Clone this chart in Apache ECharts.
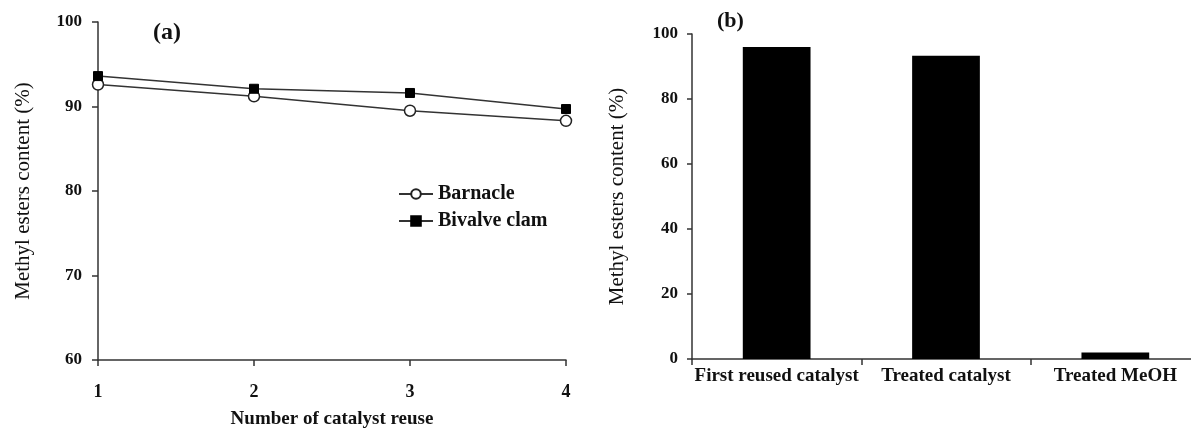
<!DOCTYPE html>
<html><head><meta charset="utf-8">
<script src="https://cdn.jsdelivr.net/npm/echarts@6/dist/echarts.min.js"></script>
<style>html,body{margin:0;padding:0;background:#fff}#c{width:1191px;height:429px}</style>
</head><body><div id="c"></div>
<script>
const reuseCats = ['1', '2', '3', '4'];
const barnacle = [92.6, 91.2, 89.5, 88.3];
const bivalve = [93.6, 92.1, 91.6, 89.7];
const barCats = ['First reused catalyst', 'Treated catalyst', 'Treated MeOH'];
const barVals = [96.0, 93.3, 2.0];

const F = 'Liberation Serif';
const axisCol = '#333';
const chart = echarts.init(document.getElementById('c'));
chart.setOption({
  backgroundColor: '#fff',
  animation: false,
  title: [
    {text: '(a)', left: 148, top: 16, textStyle: {fontFamily: F, fontSize: 24, fontWeight: 'bold', color: '#111'}},
    {text: '(b)', left: 712, top: 5, textStyle: {fontFamily: F, fontSize: 22, fontWeight: 'bold', color: '#111'}}
  ],
  legend: {
    orient: 'vertical', left: 393, top: 179, itemGap: 7, itemWidth: 34, itemHeight: 12,
    textStyle: {fontFamily: F, fontSize: 20, lineHeight: 20, fontWeight: 'bold', color: '#111'},
    data: ['Barnacle', 'Bivalve clam']
  },
  grid: [
    {left: 98, top: 22, width: 468, bottom: 69, outerBoundsMode: 'none', containLabel: false},
    {left: 692, top: 34, width: 508, bottom: 70, outerBoundsMode: 'none', containLabel: false}
  ],
  xAxis: [
    {gridIndex: 0, type: 'category', data: reuseCats, boundaryGap: false,
     axisLine: {lineStyle: {color: axisCol, width: 1.5}},
     axisTick: {show: true, length: 6, lineStyle: {color: axisCol, width: 1.5}},
     axisLabel: {fontFamily: F, fontSize: 18, fontWeight: 'bold', color: '#111', margin: 23},
     name: 'Number of catalyst reuse', nameLocation: 'middle', nameGap: 50,
     nameTextStyle: {fontFamily: F, fontSize: 19, fontWeight: 'bold', color: '#111'}},
    {gridIndex: 1, type: 'category', data: barCats,
     axisLine: {lineStyle: {color: axisCol, width: 1.5}},
     axisTick: {show: true, length: 6, lineStyle: {color: axisCol, width: 1.5}},
     axisLabel: {fontFamily: F, fontSize: 19, fontWeight: 'bold', color: '#111', margin: 8, interval: 0}}
  ],
  yAxis: [
    {gridIndex: 0, type: 'value', min: 60, max: 100, interval: 10,
     splitLine: {show: false},
     axisLine: {show: true, lineStyle: {color: axisCol, width: 1.5}},
     axisTick: {show: true, length: 6, lineStyle: {color: axisCol, width: 1.5}},
     axisLabel: {fontFamily: F, fontSize: 17, fontWeight: 'bold', color: '#111', margin: 16},
     name: 'Methyl esters content (%)', nameLocation: 'middle', nameGap: 64,
     nameTextStyle: {fontFamily: F, fontSize: 21, color: '#111'}},
    {gridIndex: 1, type: 'value', min: 0, max: 100, interval: 20,
     splitLine: {show: false},
     axisLine: {show: true, lineStyle: {color: axisCol, width: 1.5}},
     axisTick: {show: true, length: 5, lineStyle: {color: axisCol, width: 1.5}},
     axisLabel: {fontFamily: F, fontSize: 17, fontWeight: 'bold', color: '#111', margin: 14},
     name: 'Methyl esters content (%)', nameLocation: 'middle', nameGap: 64,
     nameTextStyle: {fontFamily: F, fontSize: 21, color: '#111'}}
  ],
  series: [
    {name: 'Barnacle', type: 'line', xAxisIndex: 0, yAxisIndex: 0, data: barnacle,
     symbol: 'circle', symbolSize: 11,
     lineStyle: {color: '#333', width: 1.5},
     itemStyle: {color: '#fff', borderColor: '#222', borderWidth: 1.5}},
    {name: 'Bivalve clam', type: 'line', xAxisIndex: 0, yAxisIndex: 0, data: bivalve,
     symbol: 'rect', symbolSize: 9,
     lineStyle: {color: '#333', width: 1.5},
     itemStyle: {color: '#000', borderColor: '#000', borderWidth: 1}},
    {name: 'bars', type: 'bar', xAxisIndex: 1, yAxisIndex: 1, data: barVals,
     barWidth: '40%', itemStyle: {color: '#000'}}
  ]
});
</script></body></html>
